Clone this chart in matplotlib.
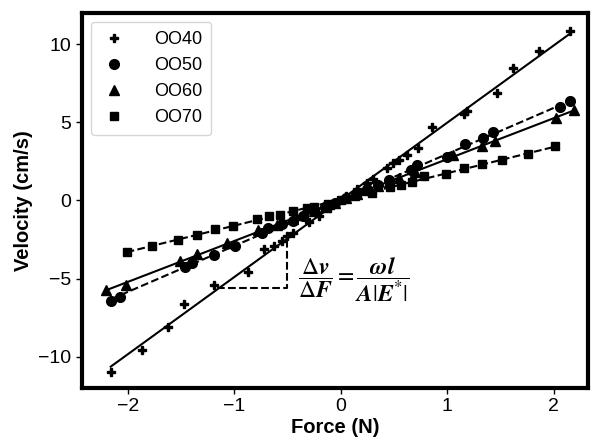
import numpy as np
import matplotlib
matplotlib.use('Agg')
import matplotlib.pyplot as plt

plt.rcParams['font.family'] = ['Liberation Sans', 'DejaVu Sans']
plt.rcParams['mathtext.fontset'] = 'stix'

# data (force in N, velocity in cm/s)
f_oo40 = [-2.16, -1.87, -1.62, -1.47, -1.19, -0.87, -0.72, -0.63, -0.55, -0.50, -0.45,
          -0.30, -0.20, -0.10, 0.05, 0.15, 0.25, 0.30, 0.43, 0.49, 0.55, 0.62, 0.73,
          0.86, 1.16, 1.19, 1.47, 1.62, 1.86, 2.15]
v_oo40 = [-10.96, -9.55, -8.08, -6.6, -5.4, -4.55, -3.1, -2.9, -2.6, -2.3, -2.1,
          -1.4, -1.0, -0.5, 0.3, 0.7, 1.1, 1.4, 2.05, 2.37, 2.56, 2.88, 3.33,
          4.7, 5.5, 5.7, 6.86, 8.46, 9.55, 10.83]

f_oo50 = [-2.16, -2.07, -1.46, -1.40, -1.19, -0.99, -0.74, -0.68, -0.55, -0.45, -0.35,
          -0.25, -0.15, -0.05, 0.05, 0.15, 0.25, 0.35, 0.45, 0.66, 0.72, 1.00, 1.17,
          1.34, 1.43, 2.06, 2.15]
v_oo50 = [-6.4, -6.15, -4.25, -4.0, -3.5, -2.9, -2.1, -1.75, -1.5, -1.3, -1.0,
          -0.7, -0.45, -0.15, 0.15, 0.45, 0.75, 1.0, 1.3, 1.92, 2.24, 2.8, 3.6,
          4.0, 4.36, 6.0, 6.35]

f_oo60 = [-2.20, -2.02, -1.51, -1.35, -1.07, -0.78, -0.60, -0.45, -0.35, -0.25, -0.15,
          -0.05, 0.05, 0.15, 0.25, 0.35, 0.45, 0.55, 0.70, 1.05, 1.33, 1.45, 2.02, 2.19]
v_oo60 = [-5.7, -5.4, -3.85, -3.4, -2.75, -1.9, -1.55, -1.2, -0.95, -0.7, -0.4,
          -0.15, 0.15, 0.4, 0.65, 0.9, 1.2, 1.45, 1.85, 2.9, 3.5, 3.8, 5.3, 5.8]

f_oo70 = [-2.01, -1.77, -1.53, -1.35, -1.18, -1.01, -0.79, -0.67, -0.57, -0.45, -0.32,
          -0.25, -0.12, 0.0, 0.13, 0.29, 0.46, 0.57, 0.67, 0.78, 0.99, 1.16, 1.33,
          1.51, 1.76, 2.01]
v_oo70 = [-3.27, -2.9, -2.56, -2.2, -1.85, -1.65, -1.2, -1.0, -0.9, -0.7, -0.5,
          -0.4, -0.2, 0.0, 0.3, 0.5, 0.83, 0.96, 1.15, 1.55, 1.7, 2.05, 2.3,
          2.6, 3.0, 3.46]

series = [
    ('OO40', f_oo40, v_oo40, 'P', 6, '-'),
    ('OO50', f_oo50, v_oo50, 'o', 7, '--'),
    ('OO60', f_oo60, v_oo60, '^', 7, '-'),
    ('OO70', f_oo70, v_oo70, 's', 6, '--'),
]

fig = plt.figure(figsize=(5.98, 4.41), dpi=100)
ax = fig.add_axes([0.137, 0.120, 0.846, 0.851])

for name, f, v, mk, ms, ls in series:
    f = np.array(f)
    v = np.array(v)
    ax.plot(f, v, mk, color='black', ms=ms, mec='black', label=name, zorder=3)
    k, b = np.polyfit(f, v, 1)
    xx = np.array([f.min(), f.max()])
    ax.plot(xx, k * xx + b, ls, color='black', lw=1.5, zorder=2)

# slope triangle under the OO40 line
ax.plot([-1.16, -0.50, -0.50], [-5.58, -5.58, -2.5], '--', color='black', lw=1.5)
ax.text(-0.40, -5.1,
        r'$\dfrac{\Delta \boldsymbol{v}}{\Delta \boldsymbol{F}} = '
        r'\dfrac{\boldsymbol{\omega l}}{\boldsymbol{A}|\boldsymbol{E}^{*}|}$',
        fontsize=17, va='center', ha='left')

ax.set_xlim(-2.43, 2.32)
ax.set_ylim(-12, 12)
ax.set_xticks([-2, -1, 0, 1, 2])
ax.set_yticks([-10, -5, 0, 5, 10])
ax.tick_params(labelsize=14, width=1, length=4)
for s in ax.spines.values():
    s.set_linewidth(3)

ax.set_xlabel('Force (N)', fontsize=14.5, fontweight='bold', labelpad=2)
ax.set_ylabel('Velocity (cm/s)', fontsize=14.5, fontweight='bold', labelpad=4)
ax.legend(loc='upper left', fontsize=13, handletextpad=1.4, borderpad=0.5,
          labelspacing=0.5, handlelength=1.6)

fig.savefig('out.png', dpi=100)
